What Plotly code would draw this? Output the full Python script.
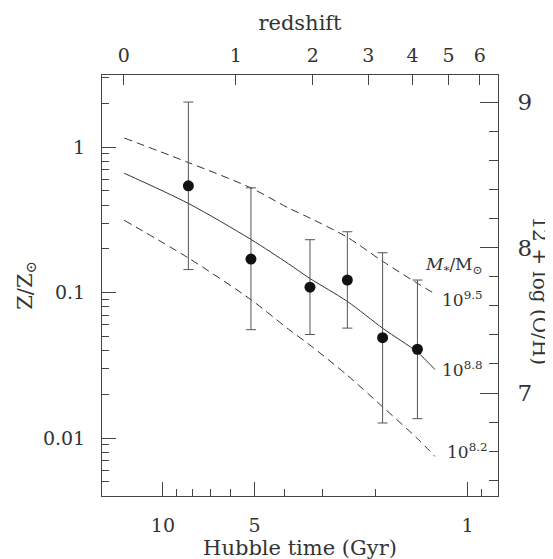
import numpy as np
import plotly.graph_objects as go

# ---------------- data ----------------
point_time = [8.25, 5.14, 3.29, 2.48, 1.90, 1.46]            # Hubble time (Gyr)
point_metal = [0.542, 0.170, 0.109, 0.122, 0.049, 0.0408]     # Z/Zsun
point_metal_hi = [2.04, 0.525, 0.231, 0.262, 0.188, 0.122]
point_metal_lo = [0.144, 0.0556, 0.0515, 0.057, 0.0127, 0.0136]

model_time = [13.4, 8.25, 5.14, 3.875, 3.29, 2.48, 1.89, 1.462, 1.279]
model_m95 = [1.155, 0.784, 0.524, 0.382, 0.325, 0.240, 0.163, 0.116, 0.098]
model_m88 = [0.661, 0.410, 0.232, 0.158, 0.125, 0.0870, 0.0565, 0.0390, 0.0296]
model_m82 = [0.314, 0.173, 0.0894, 0.0562, 0.0436, 0.0270, 0.01625, 0.00995, 0.00748]
mass_labels = ["10<sup>9.5</sup>", "10<sup>8.8</sup>", "10<sup>8.2</sup>"]

hubble_ticks = [10, 5, 1]
hubble_tick_labels = ["10", "5", "1"]
hubble_minor = [9, 8, 7, 6, 4, 3, 2, 0.9, 0.8]
redshift_labels = ["0", "1", "2", "3", "4", "5", "6"]
redshift_time = [13.45, 5.76, 3.22, 2.115, 1.516, 1.155, 0.911]
z_ticks = [0.01, 0.1, 1]
z_tick_labels = ["0.01", "0.1", "1"]
z_minor = [0.005, 0.006, 0.007, 0.008, 0.009,
           0.02, 0.03, 0.04, 0.05, 0.06, 0.07, 0.08, 0.09,
           0.2, 0.3, 0.4, 0.5, 0.6, 0.7, 0.8, 0.9, 2, 3]
oh_ticks = [7, 8, 9]
oh_minor = [6.4, 6.6, 6.8, 7.2, 7.4, 7.6, 7.8, 8.2, 8.4, 8.6, 8.8]
SOLAR_OH = 8.69

time_range = [15.85, 0.794]
z_range = [0.004, 3.13]

# ---------------- styling ----------------
FONT = "DejaVu Serif"
AX = "#444444"
TXT = "#333333"
LINE = "#333333"

fig = go.Figure()

for ys, dash in [(model_m95, "8px,5px"), (model_m88, "solid"), (model_m82, "8px,5px")]:
    fig.add_trace(go.Scatter(x=model_time, y=ys, mode="lines",
                             line=dict(color=LINE, width=1, dash=dash,
                                       shape="spline", smoothing=0.8),
                             showlegend=False, hoverinfo="skip"))

fig.add_trace(go.Scatter(
    x=point_time, y=point_metal, mode="markers",
    marker=dict(color="#111111", size=11),
    error_y=dict(type="data", symmetric=False,
                 array=[h - v for h, v in zip(point_metal_hi, point_metal)],
                 arrayminus=[v - l for v, l in zip(point_metal, point_metal_lo)],
                 color="#555555", thickness=1, width=5),
    showlegend=False))

# invisible helper traces so that the secondary axes are drawn
fig.add_trace(go.Scatter(x=point_time, y=point_metal, xaxis="x2", yaxis="y",
                         mode="markers", marker=dict(opacity=0), showlegend=False,
                         hoverinfo="skip"))
fig.add_trace(go.Scatter(x=point_time, y=[SOLAR_OH + np.log10(v) for v in point_metal],
                         xaxis="x", yaxis="y2", mode="markers",
                         marker=dict(opacity=0), showlegend=False, hoverinfo="skip"))

lg_t = [np.log10(t) for t in time_range]
lg_z = [np.log10(z) for z in z_range]

common = dict(showgrid=False, zeroline=False, showline=True, linecolor=AX,
              linewidth=1, ticks="inside", tickcolor=AX, tickwidth=1)

fig.update_layout(
    width=553, height=559,
    margin=dict(l=94, r=63, t=67, b=62),
    paper_bgcolor="white", plot_bgcolor="white",
    font=dict(family=FONT, color=TXT),
    xaxis=dict(type="log", range=lg_t, tickmode="array", tickvals=hubble_ticks,
               ticktext=hubble_tick_labels, ticklen=14, tickfont=dict(size=19),
               ticklabelstandoff=12,
               minor=dict(tickmode="array", tickvals=hubble_minor, ticks="inside",
                          ticklen=7, tickcolor=AX, tickwidth=1, showgrid=False),
               title=dict(text="Hubble time (Gyr)", font=dict(size=21), standoff=5),
               **common),
    xaxis2=dict(type="log", range=lg_t, overlaying="x", side="top",
                tickmode="array", tickvals=redshift_time, ticktext=redshift_labels,
                ticklen=10, tickfont=dict(size=19), ticklabelstandoff=4,
                title=dict(text="redshift", font=dict(size=21), standoff=8),
                **common),
    yaxis=dict(type="log", range=lg_z, tickmode="array", tickvals=z_ticks,
               ticktext=z_tick_labels, ticklen=14, tickfont=dict(size=19),
               ticklabelstandoff=12,
               minor=dict(tickmode="array", tickvals=z_minor, ticks="inside",
                          ticklen=7, tickcolor=AX, tickwidth=1, showgrid=False),
               title=dict(text="Z/Z<sub>⊙</sub>", font=dict(size=21), standoff=4),
               **common),
    yaxis2=dict(range=[SOLAR_OH + v for v in lg_z], overlaying="y", side="right",
                tickmode="array", tickvals=oh_ticks, ticklen=18,
                tickfont=dict(size=23), ticklabelstandoff=14,
                minor=dict(tickmode="array", tickvals=oh_minor, ticks="inside",
                           ticklen=9, tickcolor=AX, tickwidth=1, showgrid=False),
                **common),
)

def px_x(p):
    return (p - 94) / 396.0

def px_y(p):
    return (497 - p) / 430.0

annos = [
    dict(text="<i>M</i><sub>*</sub>/M<sub>⊙</sub>", x=px_x(415), y=px_y(262), size=17),
    dict(text=mass_labels[0], x=px_x(432), y=px_y(296), size=17),
    dict(text=mass_labels[1], x=px_x(432), y=px_y(367), size=17),
    dict(text=mass_labels[2], x=px_x(437), y=px_y(451), size=17),
]
for a in annos:
    fig.add_annotation(text=a["text"], x=a["x"], y=a["y"], xref="paper", yref="paper",
                       xanchor="left", yanchor="middle", showarrow=False,
                       font=dict(size=a["size"], color=TXT, family=FONT))

fig.add_annotation(text="12 + log (O/H)", x=px_x(532), y=px_y(287), xref="paper",
                   yref="paper", textangle=90, showarrow=False,
                   xanchor="center", yanchor="middle",
                   font=dict(size=20, color=TXT, family=FONT))

fig.write_html("out.html")
